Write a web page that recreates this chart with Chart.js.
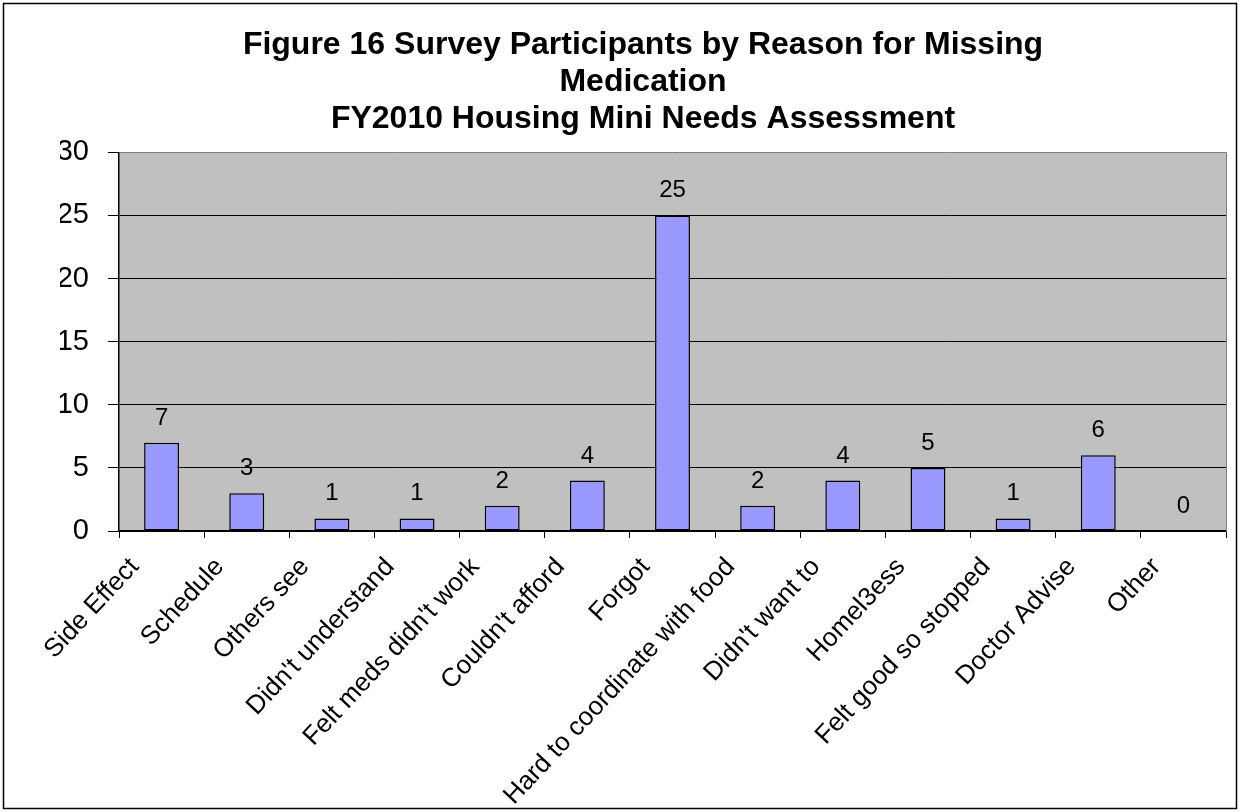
<!DOCTYPE html>
<html>
<head>
<meta charset="utf-8">
<script src="https://cdn.jsdelivr.net/npm/chart.js@4"></script>
<style>
  html, body { margin: 0; padding: 0; background: #fff; }
  canvas { display: block; }
</style>
</head>
<body>
<canvas id="chart" width="1240" height="812"></canvas>
<script>
const titleLines = [
  'Figure 16 Survey Participants by Reason for Missing',
  'Medication',
  'FY2010 Housing Mini Needs Assessment',
]

const reasons = [
  'Side Effect',
  'Schedule',
  'Others see',
  "Didn't understand",
  "Felt meds didn't work",
  "Couldn't afford",
  'Forgot',
  'Hard to coordinate with food',
  "Didn't want to",
  'Homel3ess',
  'Felt good so stopped',
  'Doctor Advise',
  'Other',
]

const participants = [7, 3, 1, 1, 2, 4, 25, 2, 4, 5, 1, 6, 0]

const yTicks = [0, 5, 10, 15, 20, 25, 30]

const FONT = "'Liberation Sans', Arial, sans-serif"

// grey plot area, grey right edge and the outer frame
const frame = {
  id: 'frame',
  beforeDraw: (chart) => {
    const { ctx, chartArea: a } = chart
    ctx.save()
    ctx.fillStyle = '#C0C0C0'
    ctx.fillRect(a.left, a.top, a.right - a.left, a.bottom - a.top)
    ctx.restore()
  },
  afterDraw: (chart) => {
    const { ctx, chartArea: a } = chart
    ctx.save()
    ctx.strokeStyle = '#808080'
    ctx.lineWidth = 1
    ctx.beginPath()
    ctx.moveTo(Math.round(a.right) + 0.5, a.top)
    ctx.lineTo(Math.round(a.right) + 0.5, a.bottom)
    ctx.stroke()
    ctx.strokeStyle = '#000'
    ctx.lineWidth = 1.5
    ctx.strokeRect(3.5, 3.5, chart.width - 7, chart.height - 7)
    ctx.restore()
  },
}

// value printed above each bar
const valueLabels = {
  id: 'valueLabels',
  afterDatasetsDraw: (chart) => {
    const { ctx } = chart
    const meta = chart.getDatasetMeta(0)
    ctx.save()
    ctx.font = `24px ${FONT}`
    ctx.fillStyle = '#000'
    ctx.textAlign = 'center'
    ctx.textBaseline = 'alphabetic'
    meta.data.forEach((bar, i) => {
      ctx.fillText(String(participants[i]), bar.x, bar.y - 18)
    })
    ctx.restore()
  },
}

new Chart(document.getElementById('chart'), {
  type: 'bar',
  data: {
    labels: reasons,
    datasets: [
      {
        data: participants,
        backgroundColor: '#9999FF',
        borderColor: '#000',
        borderWidth: 1.5,
        borderSkipped: false,
        categoryPercentage: 1,
        barPercentage: 0.41,
      },
    ],
  },
  options: {
    responsive: false,
    animation: false,
    devicePixelRatio: 1,
    layout: {
      padding: { top: 4, left: 60, right: 14, bottom: 4 },
    },
    plugins: {
      legend: { display: false },
      tooltip: { enabled: false },
      title: {
        display: true,
        text: titleLines,
        color: '#000',
        font: { family: FONT, size: 32, weight: 'bold', lineHeight: 1.17 },
        padding: { top: 22, bottom: 14 },
      },
    },
    scales: {
      x: {
        grid: {
          offset: true,
          drawOnChartArea: false,
          drawTicks: true,
          tickLength: 7,
          tickColor: '#000',
        },
        border: { color: '#000', width: 1.5 },
        ticks: {
          autoSkip: false,
          maxRotation: 47,
          minRotation: 47,
          padding: 14,
          labelOffset: -27,
          color: '#000',
          font: { family: FONT, size: 26 },
        },
        afterFit: (scale) => {
          scale.height = 812 - 531 - 4
        },
      },
      y: {
        min: 0,
        max: 30,
        afterBuildTicks: (scale) => {
          scale.ticks = yTicks.map((v) => ({ value: v }))
        },
        grid: {
          color: (c) => (c.tick && c.tick.value === 30 ? '#808080' : '#000'),
          lineWidth: 1,
          tickLength: 11,
          tickColor: '#000',
        },
        border: { color: '#000', width: 1.5 },
        ticks: {
          padding: 19,
          color: '#000',
          font: { family: FONT, size: 29 },
        },
        afterFit: (scale) => {
          scale.width = 59
        },
      },
    },
  },
  plugins: [frame, valueLabels],
})
</script>
</body>
</html>
